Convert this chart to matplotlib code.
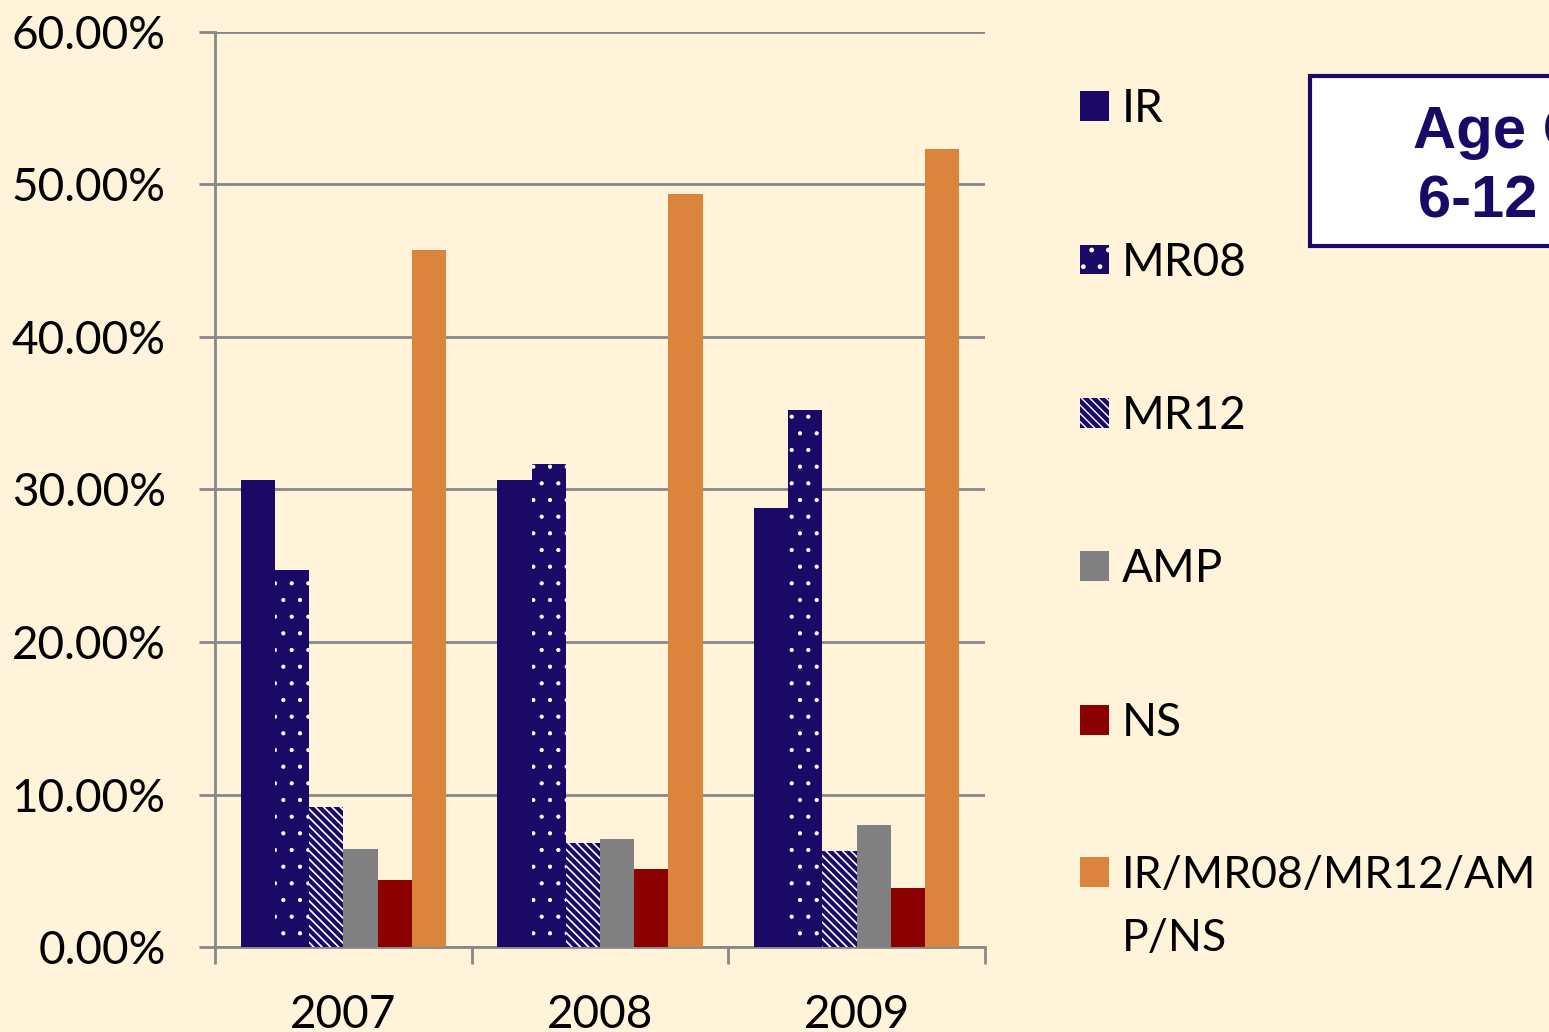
import matplotlib
matplotlib.use('Agg')
import matplotlib.pyplot as plt
from matplotlib.patches import Patch, Rectangle
from matplotlib.ticker import FuncFormatter
import numpy as np

# data
years = ['2007', '2008', '2009']
series_names = ['IR', 'MR08', 'MR12', 'AMP', 'NS', 'IR/MR08/MR12/AM']
last_label_wrap = 'P/NS'
ir = [30.6, 30.6, 28.8]
mr08 = [24.7, 31.7, 35.2]
mr12 = [9.2, 6.8, 6.3]
amp = [6.4, 7.1, 8.0]
ns = [4.4, 5.1, 3.9]
combined = [45.7, 49.4, 52.3]

navy = '#1a0966'
colors = [navy, navy, navy, '#808080', '#8b0000', '#db843d']
hatches = [None, '.', '\\\\\\\\', None, None, None]
hatch_lw = [1, 0.6, 1.2, 1, 1, 1]
bg = '#fff3d9'

plt.rcParams['font.family'] = ['Lato', 'DejaVu Sans']

fig = plt.figure(figsize=(15.49, 10.32), dpi=100)
fig.patch.set_facecolor(bg)
ax = fig.add_axes([215 / 1549, 1 - 947 / 1032, 770 / 1549, 915 / 1032])
ax.set_facecolor(bg)

x = np.arange(len(years))
width = 0.8 / 6
handles = []
for i, vals in enumerate([ir, mr08, mr12, amp, ns, combined]):
    offs = (i - 2.5) * width
    with plt.rc_context({'hatch.linewidth': hatch_lw[i]}):
        if hatches[i]:
            ax.bar(x + offs, vals, width, color=colors[i], edgecolor='white',
                   hatch=hatches[i], linewidth=0, zorder=3)
            handles.append(Patch(facecolor=colors[i], edgecolor='white',
                                 hatch=hatches[i], linewidth=0))
        else:
            ax.bar(x + offs, vals, width, color=colors[i], linewidth=0, zorder=3)
            handles.append(Patch(facecolor=colors[i], linewidth=0))

ax.set_xlim(-0.5, 2.5)
ax.set_ylim(0, 60)
ax.set_yticks(np.arange(0, 61, 10))
ax.yaxis.set_major_formatter(FuncFormatter(lambda v, p: f'{v:.2f}%'))
ax.grid(axis='y', color='#888888', linewidth=2, zorder=0)

ax.set_xticks(x)
ax.set_xticklabels(years)
ax.set_xticks([-0.5, 0.5, 1.5, 2.5], minor=True)
ax.tick_params(axis='x', which='major', length=0, pad=34, labelsize=33)
ax.tick_params(axis='x', which='minor', length=12, width=2, color='#888888')
ax.tick_params(axis='y', length=11.5, width=2, color='#888888', labelsize=33, pad=24)

for s in ['top', 'right']:
    ax.spines[s].set_visible(False)
for s in ['left', 'bottom']:
    ax.spines[s].set_color('#888888')
    ax.spines[s].set_linewidth(2)

leg = fig.legend(handles, series_names, loc='upper left',
                 bbox_to_anchor=(1062 / 1549, 1 - 70 / 1032),
                 frameon=False, fontsize=33, handlelength=0.62, handleheight=0.62,
                 handletextpad=0.28, labelspacing=2.43, borderaxespad=0)
leg.get_texts()[-1].set_fontsize(32)

# second line of the last legend label, placed under the first one
fig.canvas.draw()
bb = leg.get_texts()[-1].get_window_extent()
fig.text(bb.x0 / 1549, (bb.y0 + bb.y1) / 2 / 1032 - 63 / 1032, last_label_wrap,
         ha='left', va='center', fontsize=32)

# title box, cut off at the right edge
fig.patches.append(Rectangle((1310 / 1549, 1 - 246 / 1032), 300 / 1549, 170 / 1032,
                             transform=fig.transFigure, facecolor='white',
                             edgecolor=navy, linewidth=3, zorder=1))
fig.text(1413 / 1549, 1 - 148 / 1032, 'Age Group', ha='left', va='baseline',
         fontsize=43, fontweight='bold', color=navy, family='Liberation Sans', zorder=2)
fig.text(1418 / 1549, 1 - 218 / 1032, '6-12 Years', ha='left', va='baseline',
         fontsize=43, fontweight='bold', color=navy, family='Liberation Sans', zorder=2)

fig.savefig('out.png', dpi=100, facecolor=bg)
